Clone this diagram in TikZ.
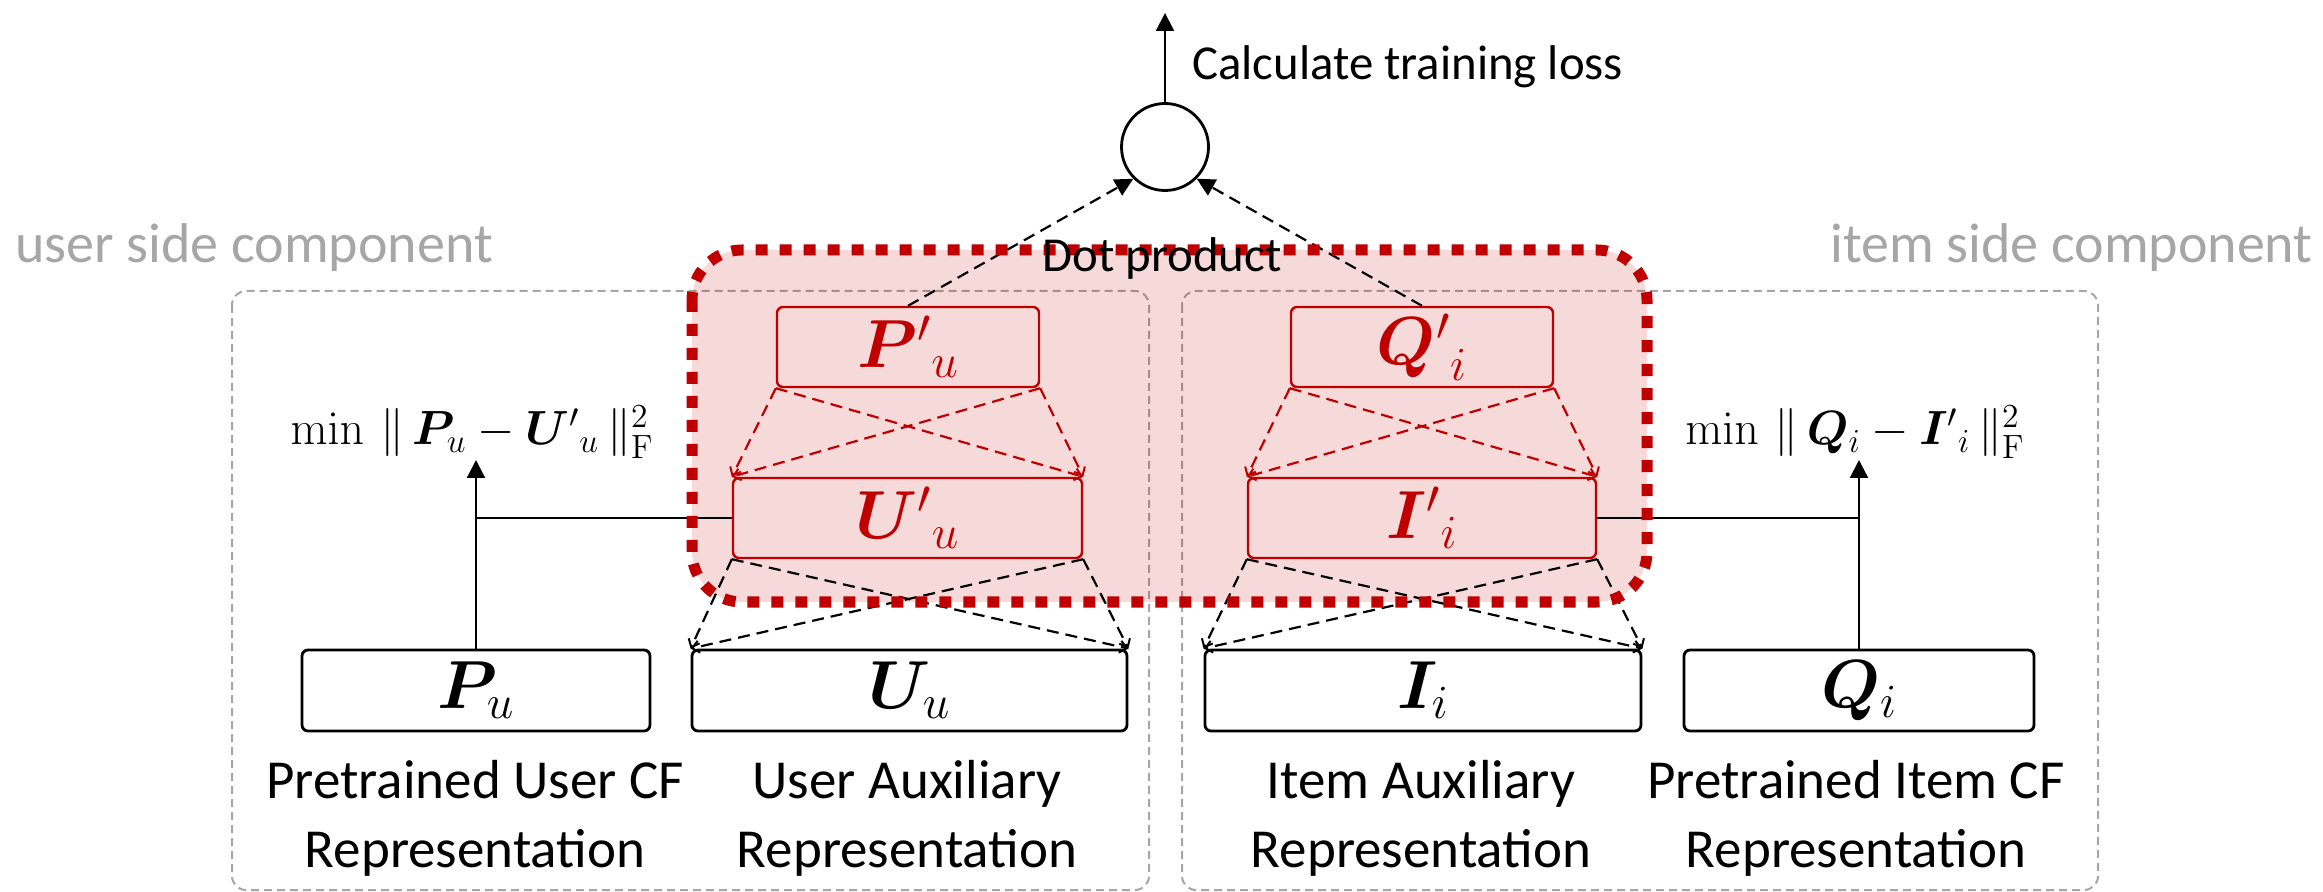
\RequirePackage{fix-cm}
\documentclass[tikz,border=0pt]{standalone}
\usepackage{amsmath}
\usepackage{bm}
\usepackage[no-math]{fontspec}
\setmainfont{Carlito}
\usetikzlibrary{arrows.meta}
\definecolor{dred}{HTML}{C00000}
\definecolor{lgrey}{HTML}{A6A6A6}
\begin{document}
\begin{tikzpicture}[x=0.5pt, y=-0.5pt,
  bbox/.style={draw=black, line width=1.4pt, rounded corners=3pt, minimum height=40.5pt, inner sep=0pt, font=\fontsize{34}{40}\selectfont},
  rbox/.style={draw=dred, line width=1.2pt, rounded corners=3pt, minimum height=40pt, inner sep=0pt, text=dred, font=\fontsize{34}{40}\selectfont},
  grp/.style={draw=lgrey, line width=1pt, dash pattern=on 4pt off 2.5pt, rounded corners=7pt},
  lbl/.style={font=\fontsize{27.5}{34.5}\selectfont, align=center, inner sep=0pt, anchor=base},
  side/.style={font=\fontsize{28}{34}\selectfont, text=lgrey, inner sep=0pt},
  small/.style={font=\fontsize{24.4}{30}\selectfont, inner sep=0pt},
  minlbl/.style={font=\fontsize{24}{30}\selectfont, inner sep=0pt, anchor=base},
  rdsh/.style={draw=dred, line width=1.1pt, dash pattern=on 6pt off 3.5pt, -{Straight Barb[length=3.5pt,width=6pt,line width=1pt]}},
  kdsh/.style={draw=black, line width=1.1pt, dash pattern=on 6pt off 3.5pt, -{Straight Barb[length=3.5pt,width=6pt,line width=1pt]}},
  topdsh/.style={draw=black, line width=1.1pt, dash pattern=on 6pt off 3.5pt, -{Triangle[length=9pt,width=9pt]}},
  solidarr/.style={draw=black, line width=1.1pt, -{Triangle[length=9pt,width=9pt]}},
  conn/.style={draw=black, line width=1.1pt}
]
\useasboundingbox (0,0) rectangle (2323,892);

% group boxes
\draw[grp] (232,291) rectangle (1149,890);
\draw[grp] (1182,291) rectangle (2098,890);
\node[side, anchor=base west] (userside) at (15,263) {user side component};
\node[side, anchor=base east] (itemside) at (2313,263) {item side component};

% dot product region fill
\fill[dred, fill opacity=0.15, rounded corners=25pt] (692,250) rectangle (1647,602);

% top circle and loss
\node[draw=black, line width=1.4pt, circle, minimum size=43.5pt, inner sep=0pt] (circ) at (1165,147) {};
\coordinate (losstop) at (1165,13);
\node[small, anchor=base west] (loss) at (1192,80) {Calculate training loss};
\draw[solidarr] (circ.north) -- (losstop);

% red boxes
\node[rbox, minimum width=131pt] (Pp) at (908,347) {${\bm{P}'}_{u}$};
\node[rbox, minimum width=131pt] (Qp) at (1422,347) {${\bm{Q}'}_{i}$};
\node[rbox, minimum width=174.5pt] (Up) at (907.5,518) {${\bm{U}'}_{u}$};
\node[rbox, minimum width=174pt] (Ip) at (1422,518) {${\bm{I}'}_{i}$};

% black boxes
\node[bbox, minimum width=174pt] (Pu) at (476,690.5) {$\bm{P}_{u}$};
\node[bbox, minimum width=217.5pt] (Uu) at (909.5,690.5) {$\bm{U}_{u}$};
\node[bbox, minimum width=218pt] (Ii) at (1423,690.5) {$\bm{I}_{i}$};
\node[bbox, minimum width=175pt] (Qi) at (1859,690.5) {$\bm{Q}_{i}$};

% labels under boxes (base = last line)
\node[lbl] (lPu) at (475,867) {Pretrained User CF\\Representation};
\node[lbl] (lUu) at (907,867) {User Auxiliary\\Representation};
\node[lbl] (lIi) at (1421,867) {Item Auxiliary\\Representation};
\node[lbl] (lQi) at (1856,867) {Pretrained Item CF\\Representation};

% min labels
\node[minlbl] (minU) at (472,445) {$\min \,\|\, \bm{P}_{u} - {\bm{U}'}_{u} \,\|_{\mathrm{F}}^{2}$};
\node[minlbl] (minI) at (1855,445) {$\min \,\|\, \bm{Q}_{i} - {\bm{I}'}_{i} \,\|_{\mathrm{F}}^{2}$};
\coordinate (mU) at (476,460);
\coordinate (mI) at (1859,460);
\draw[solidarr] (Pu.north) -- (mU);
\draw[solidarr] (Qi.north) -- (mI);
\draw[conn] (Up.west) -- (Up.west -| Pu.north);
\draw[conn] (Ip.east) -- (Ip.east -| Qi.north);

% red dashed inner connections
\draw[rdsh] (Pp.south west) -- (Up.north west);
\draw[rdsh] (Pp.south west) -- (Up.north east);
\draw[rdsh] (Pp.south east) -- (Up.north west);
\draw[rdsh] (Pp.south east) -- (Up.north east);
\draw[rdsh] (Qp.south west) -- (Ip.north west);
\draw[rdsh] (Qp.south west) -- (Ip.north east);
\draw[rdsh] (Qp.south east) -- (Ip.north west);
\draw[rdsh] (Qp.south east) -- (Ip.north east);

% black dashed lower connections
\draw[kdsh] (Up.south west) -- (Uu.north west);
\draw[kdsh] (Up.south west) -- (Uu.north east);
\draw[kdsh] (Up.south east) -- (Uu.north west);
\draw[kdsh] (Up.south east) -- (Uu.north east);
\draw[kdsh] (Ip.south west) -- (Ii.north west);
\draw[kdsh] (Ip.south west) -- (Ii.north east);
\draw[kdsh] (Ip.south east) -- (Ii.north west);
\draw[kdsh] (Ip.south east) -- (Ii.north east);

% dashed to circle
\draw[topdsh] (Pp.north) -- (circ.225);
\draw[topdsh] (Qp.north) -- (circ.-45);

% dotted red border and its label
\draw[dred, line width=5.5pt, dash pattern=on 6pt off 6pt, rounded corners=25pt] (692,250) rectangle (1647,602);
\node[small, anchor=base] (dot) at (1162,272) {Dot product};
\end{tikzpicture}
\end{document}
